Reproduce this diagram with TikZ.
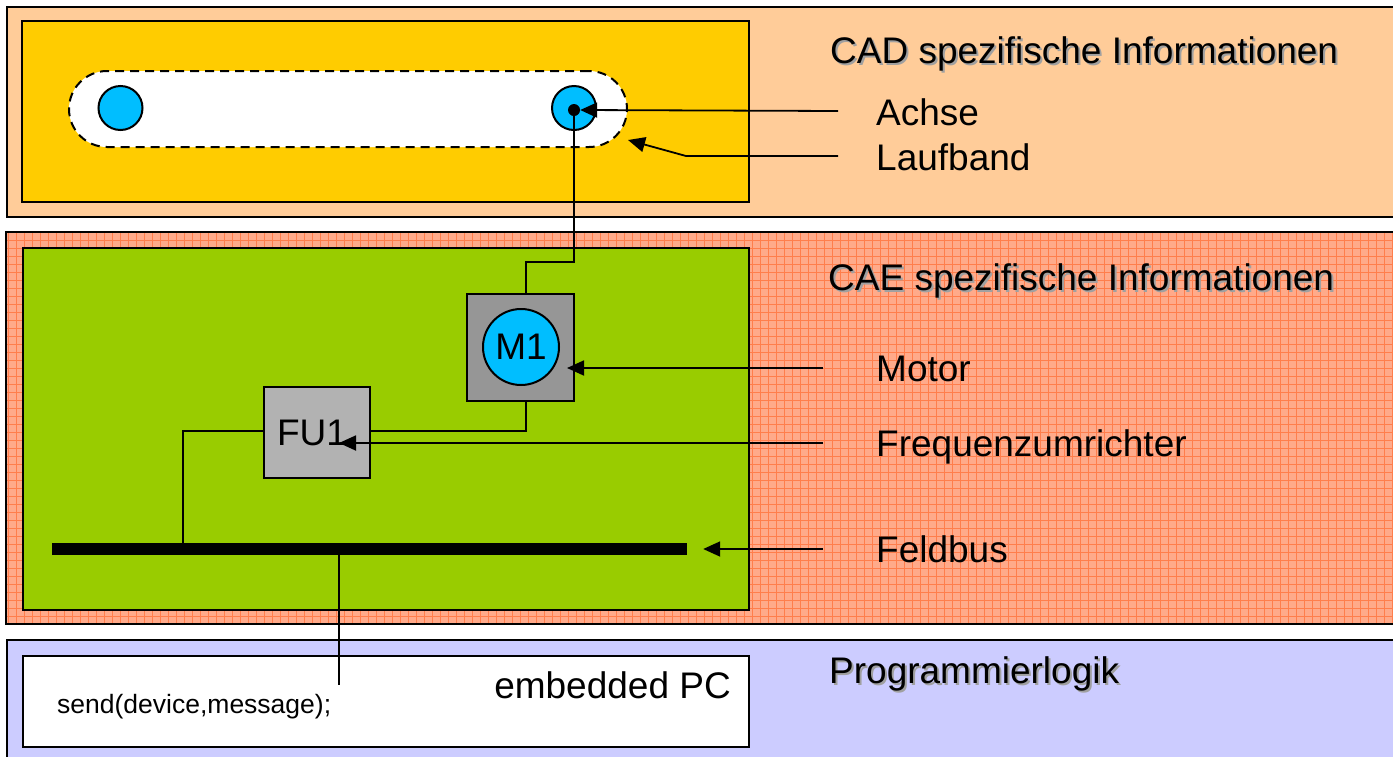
\documentclass[tikz,border=0pt]{standalone}
\usepackage{fontspec}
\setmainfont{Liberation Sans}
\usetikzlibrary{arrows.meta}
\definecolor{peach}{HTML}{FFCC99}
\definecolor{cadyellow}{HTML}{FFCC00}
\definecolor{caegreen}{HTML}{99CC00}
\definecolor{lavender}{HTML}{CCCCFF}
\definecolor{axblue}{HTML}{00BEFF}
\definecolor{motgray}{HTML}{969696}
\definecolor{fugray}{HTML}{B2B2B2}
\definecolor{salbase}{HTML}{FFAA8A}
\definecolor{salgrid}{HTML}{FF7E4C}
\definecolor{shadowgray}{HTML}{A0A0A0}
\begin{document}
\begin{tikzpicture}[x=1pt,y=-1pt,
  box/.style={draw=black,line width=2pt,inner sep=0pt,anchor=north west},
  wire/.style={draw=black,line width=1.8pt},
  arr/.style={wire,-{Triangle[length=17pt,width=15pt]}},
  big/.style={font=\fontsize{37pt}{44pt}\selectfont,inner sep=0pt},
  small/.style={font=\fontsize{26.5pt}{32pt}\selectfont,inner sep=0pt},
  axis/.style={circle,draw=black,line width=2pt,fill=axblue,minimum size=44pt,inner sep=0pt},
  title/.style={big,anchor=base west},
  tshadow/.style={big,anchor=base west,text=shadowgray},
  lbl/.style={big,anchor=base west}]
\clip (0,0) rectangle (1393,756);
\fill[white] (0,0) rectangle (1393,756);

% ---------- CAD layer ----------
\node[box,fill=peach,minimum width=1394pt,minimum height=210pt] (cadbg) at (6,6) {};
\node[box,fill=cadyellow,minimum width=727pt,minimum height=181pt] (cadin) at (21,20) {};
\node[box,fill=white,dash pattern=on 9pt off 6pt,rounded corners=38pt,
      minimum width=558pt,minimum height=76pt] (belt) at (68,70) {};
\node[axis] (axL) at (120.5,108) {};
\node[axis] (axR) at (574,108) {};
\node[circle,fill=black,minimum size=12pt,inner sep=0pt] (dot) at (574,110) {};

\node[tshadow] (cadsh) at (832,65) {CAD spezifische Informationen};
\node[title] (cadtitle) at (830,63) {CAD spezifische Informationen};
\node[lbl] (achse) at (876,125) {Achse};
\node[lbl] (laufband) at (876,170) {Laufband};
\coordinate (achseS) at (838,111);
\coordinate (laufS) at (838,156);
\coordinate (laufB) at (686,156);
\coordinate (laufT) at (628,140);
\draw[arr] (achseS) -- (dot.east);
\draw[arr] (laufS) -- (laufB) -- (laufT);

% ---------- CAE layer ----------
\node[anchor=north west,inner sep=0pt,fill=salbase,minimum width=1394pt,minimum height=392pt] (caebg) at (6,232) {};
\begin{scope}
  \clip (caebg.north west) rectangle (caebg.south east);
  \draw[salgrid,line width=1pt] (caebg.south west) grid[step=8pt] (caebg.north east);
\end{scope}
\draw[line width=2pt] (caebg.north west) rectangle (caebg.south east);
\node[box,fill=caegreen,minimum width=726pt,minimum height=362pt] (caein) at (22,247) {};

\node[tshadow] (caesh) at (830,292) {CAE spezifische Informationen};
\node[title] (caetitle) at (828,290) {CAE spezifische Informationen};

\node[draw=black,line width=2pt,fill=motgray,minimum width=107pt,minimum height=107pt,inner sep=0pt] (motor) at (520.5,347.5) {};
\node[circle,draw=black,line width=2pt,fill=axblue,minimum size=76pt,inner sep=0pt,big] (m1) at (521,347) {M1};
\node[draw=black,line width=2pt,fill=fugray,minimum width=106pt,minimum height=91pt,inner sep=0pt] (fu) at (317,432.5) {};
\node[big] (fulabel) at (312,433) {FU1};
\node[fill=black,minimum width=635pt,minimum height=12pt,inner sep=0pt] (bus) at (369.5,549) {};

\coordinate (j1) at (574,262);
\coordinate (j2) at (526,431);
\coordinate (busL) at (183,549);
\coordinate (pcEnd) at (339,685);
\draw[wire] (dot.center) -- (j1) -| ([xshift=5.5pt]motor.north);
\draw[wire] ([xshift=5.5pt]motor.south) -- (j2) -- (fu.east |- j2);
\draw[wire] (fu.west |- j2) -| (busL);

\node[lbl] (motorl) at (876,381) {Motor};
\node[lbl] (frequ) at (876,456) {Frequenzumrichter};
\node[lbl] (feldbus) at (876,562) {Feldbus};
\coordinate (motS) at (823,368);
\coordinate (motT) at (567,368);
\coordinate (frqS) at (823,443);
\coordinate (frqT) at (339,443);
\coordinate (busS) at (823,549);
\draw[arr] (motS) -- (motT);
\draw[arr] (frqS) -- (frqT);
\draw[arr] (busS) -- ([xshift=16pt]bus.east);

% ---------- Programmierlogik layer ----------
\node[box,fill=lavender,minimum width=1394pt,minimum height=130pt] (plbg) at (6,639) {};
\node[box,fill=white,minimum width=726pt,minimum height=91pt] (pc) at (22,655) {};
\draw[wire] (bus.south -| pcEnd) -- (pcEnd);
\node[big,anchor=base east] (pcname) at (731,698) {embedded PC};
\node[small,anchor=base west] (send) at (57,713) {send(device,message);};
\node[tshadow] (plsh) at (831,685) {Programmierlogik};
\node[title] (pltitle) at (829,683) {Programmierlogik};
\end{tikzpicture}
\end{document}
